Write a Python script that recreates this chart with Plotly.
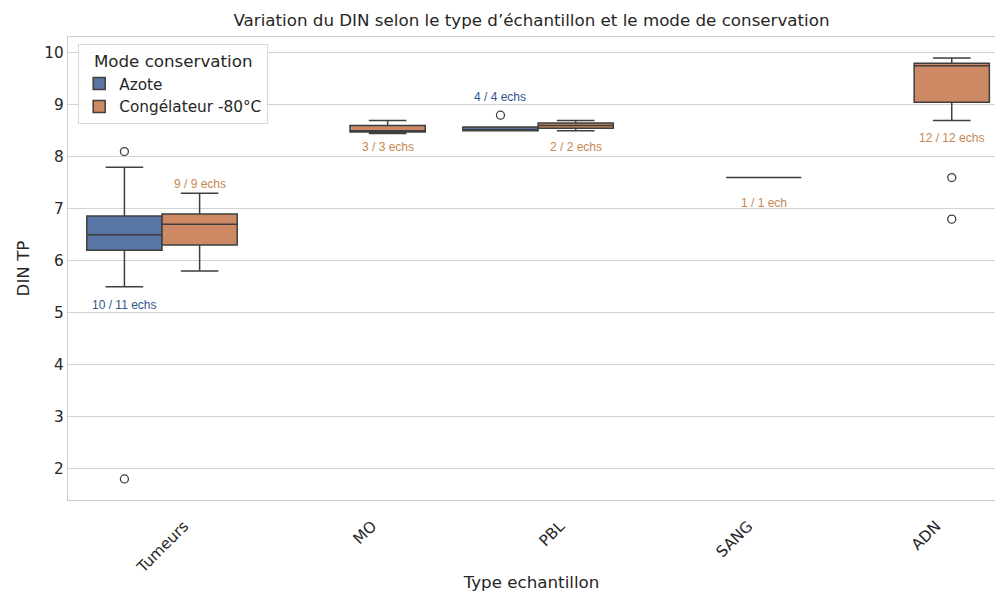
import plotly.graph_objects as go

# ---------------- data ----------------
categories = ["Tumeurs", "MO", "PBL", "SANG", "ADN"]
modes = ["Azote", "Congélateur -80°C"]

# Azote boxes (statistics)
azote_cat = ["Tumeurs", "PBL"]
azote_q1 = [6.2, 8.5]
azote_median = [6.5, 8.5]
azote_q3 = [6.86, 8.575]
azote_whisker_low = [5.5, 8.5]
azote_whisker_high = [7.8, 8.575]
azote_outlier_cat = ["Tumeurs", "Tumeurs", "PBL"]
azote_outlier_val = [1.8, 8.1, 8.8]

# Congélateur -80°C boxes
congel_cat = ["Tumeurs", "MO", "PBL", "SANG", "ADN"]
congel_q1 = [6.3, 8.475, 8.55, 7.6, 9.05]
congel_median = [6.7, 8.5, 8.6, 7.6, 9.75]
congel_q3 = [6.9, 8.6, 8.65, 7.6, 9.8]
congel_whisker_low = [5.8, 8.45, 8.5, 7.6, 8.7]
congel_whisker_high = [7.3, 8.7, 8.7, 7.6, 9.9]
congel_outlier_cat = ["ADN", "ADN"]
congel_outlier_val = [7.6, 6.8]

# sample-count labels
label_text = ["10 / 11 echs", "9 / 9 echs", "3 / 3 echs", "4 / 4 echs",
              "2 / 2 echs", "1 / 1 ech", "12 / 12 echs"]
label_cat = ["Tumeurs", "Tumeurs", "MO", "PBL", "PBL", "SANG", "ADN"]
label_mode = ["Azote", "Congélateur -80°C", "Congélateur -80°C", "Azote",
              "Congélateur -80°C", "Congélateur -80°C", "Congélateur -80°C"]
label_y = [5.15, 7.48, 8.18, 9.15, 8.18, 7.12, 8.36]

# ---------------- styles ----------------
FONT = "DejaVu Sans"
TXT = "#262626"
box_fill = {"Azote": "#5875A4", "Congélateur -80°C": "#CC8963"}
label_color = {"Azote": "#34538C", "Congélateur -80°C": "#C4884F"}
edge = "#3f3f3f"
hue_offset = {"Azote": -0.2, "Congélateur -80°C": 0.2}
BOX_W = 0.4


def pos(cats, mode):
    return [categories.index(c) + hue_offset[mode] for c in cats]


fig = go.Figure()


def add_mode(name, cats, q1, med, q3, lo, hi, out_cat, out_val):
    fig.add_trace(go.Box(
        name=name, x=pos(cats, name), q1=q1, median=med, q3=q3,
        lowerfence=lo, upperfence=hi, orientation="v", width=BOX_W,
        boxpoints=False,
        fillcolor=box_fill[name],
        line=dict(color=edge, width=1.5),
        whiskerwidth=0.5,
        hoverinfo="skip",
    ))
    fig.add_trace(go.Scatter(
        x=pos(out_cat, name), y=out_val, mode="markers",
        marker=dict(symbol="circle-open", size=8, color=edge,
                    line=dict(width=1.3, color=edge)),
        showlegend=False, hoverinfo="skip",
    ))


add_mode("Azote", azote_cat, azote_q1, azote_median, azote_q3,
         azote_whisker_low, azote_whisker_high, azote_outlier_cat, azote_outlier_val)
add_mode("Congélateur -80°C", congel_cat, congel_q1, congel_median, congel_q3,
         congel_whisker_low, congel_whisker_high, congel_outlier_cat, congel_outlier_val)

for t, c, m, yv in zip(label_text, label_cat, label_mode, label_y):
    fig.add_annotation(
        x=categories.index(c) + hue_offset[m], y=yv, xref="x", yref="y",
        text=t, showarrow=False, xanchor="center", yanchor="middle",
        font=dict(family="Liberation Sans, Arial", size=12, color=label_color[m]),
    )

fig.update_layout(
    width=995, height=592,
    margin=dict(l=68, r=0, t=37, b=92),
    paper_bgcolor="white", plot_bgcolor="white",
    boxmode="overlay",
    font=dict(family=FONT, color=TXT, size=15.3),
    title=dict(text="Variation du DIN selon le type d’échantillon et le mode de conservation",
               x=0.5, xref="paper", xanchor="center",
               y=1 - 20 / 592, yref="container", yanchor="middle",
               font=dict(family=FONT, size=16.7, color=TXT)),
    legend=dict(
        title=dict(text="Mode conservation", side="top center",
                   font=dict(family=FONT, size=16.7, color=TXT)),
        x=0.011, y=0.984, xanchor="left", yanchor="top",
        tracegroupgap=0,
        bgcolor="rgba(255,255,255,0.85)", bordercolor="#d9d9d9", borderwidth=1,
        font=dict(family=FONT, size=15.3, color=TXT),
    ),
    showlegend=True,
)

fig.update_xaxes(
    type="linear", range=[-0.5, 4.43],
    tickmode="array", tickvals=list(range(len(categories))), ticktext=categories,
    showgrid=False, zeroline=False,
    showline=True, mirror=True, linecolor="#cccccc", linewidth=1.25,
    ticks="", tickangle=-45, ticklabelshift=22, ticklabelstandoff=10,
    tickfont=dict(family=FONT, size=15.3, color=TXT),
    title=dict(text="Type echantillon", standoff=4,
               font=dict(family=FONT, size=16.7, color=TXT)),
)
fig.update_yaxes(
    range=[1.395, 10.305], dtick=1, tick0=0,
    showgrid=True, gridcolor="#d4d4d4", gridwidth=1, zeroline=False,
    showline=True, mirror=False, linecolor="#cccccc", linewidth=1.25,
    ticks="", tickfont=dict(family=FONT, size=15.3, color=TXT),
    title=dict(text="DIN TP", standoff=10,
               font=dict(family=FONT, size=16.7, color=TXT)),
)

fig.write_html("out.html")
